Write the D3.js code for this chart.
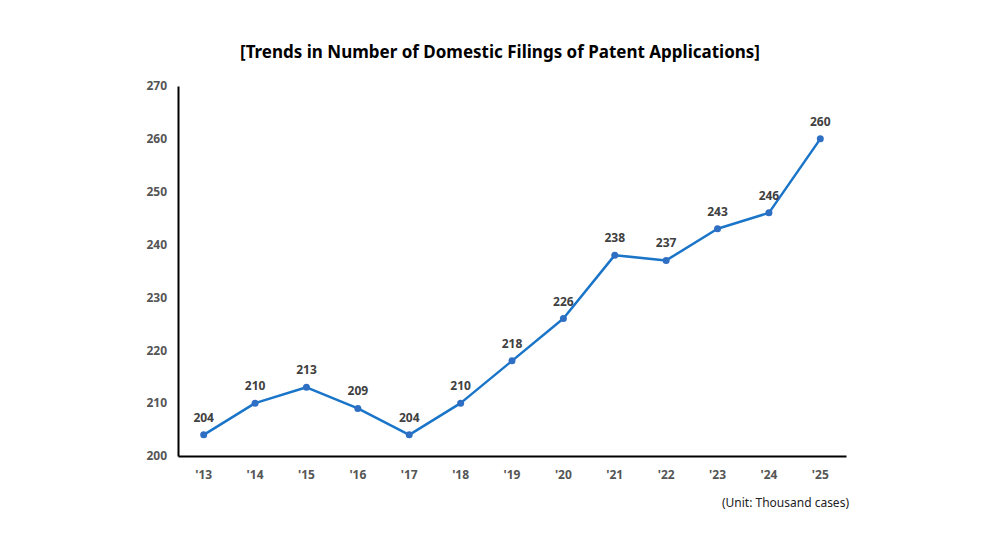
<!doctype html>
<html>
<head>
	<script src="https://d3js.org/d3.v7.min.js"></script>
</head>
<body style="margin: 0; background-color: white;">
	<div id="my_dataviz"></div>
	<script>

// data
var years = ["'13", "'14", "'15", "'16", "'17", "'18", "'19", "'20", "'21", "'22", "'23", "'24", "'25"];
var filings = [204, 210, 213, 209, 204, 210, 218, 226, 238, 237, 243, 246, 260];
var yTicks = [200, 210, 220, 230, 240, 250, 260, 270];

var W = 1000, H = 549;
var margin = {top: 86, right: 154, bottom: 93, left: 178},
    width = W - margin.left - margin.right,
    height = H - margin.top - margin.bottom;

var font = "'Noto Sans', 'Open Sans', sans-serif";

var svg = d3.select("#my_dataviz")
  .append("svg")
    .attr("width", W)
    .attr("height", H)
    .style("display", "block");

// title
svg.append("text")
    .attr("x", 500).attr("y", 58)
    .attr("text-anchor", "middle")
    .style("font-family", font)
    .style("font-size", "17px")
    .style("font-weight", "bold")
    .style("fill", "#000")
    .text("[Trends in Number of Domestic Filings of Patent Applications]");

var g = svg.append("g")
    .attr("transform", "translate(" + margin.left + "," + margin.top + ")");

var x = d3.scaleBand()
    .domain(years)
    .range([0, width])
    .padding(0);

var y = d3.scaleLinear()
    .domain([200, 270])
    .range([height, 0]);

// x axis
var xAxis = g.append("g")
    .attr("transform", "translate(0," + height + ")")
    .call(d3.axisBottom(x).tickSize(0).tickPadding(14));
xAxis.select(".domain").attr("stroke", "#000").attr("stroke-width", 2);
xAxis.selectAll("text")
    .style("font-family", font)
    .style("font-size", "12px")
    .style("font-weight", "bold")
    .style("fill", "#555");

// y axis
var yAxis = g.append("g")
    .call(d3.axisLeft(y).tickValues(yTicks).tickSize(0).tickPadding(11));
yAxis.select(".domain").attr("stroke", "#000").attr("stroke-width", 2);
yAxis.selectAll("text")
    .style("font-family", font)
    .style("font-size", "12px")
    .style("font-weight", "bold")
    .style("fill", "#555");

var cx = function(d, i) { return x(years[i]) + x.bandwidth() / 2; };

// line
g.append("path")
    .datum(filings)
    .attr("fill", "none")
    .attr("stroke", "#1a75c9")
    .attr("stroke-width", 2.5)
    .attr("stroke-linejoin", "round")
    .attr("d", d3.line()
      .x(cx)
      .y(function(d) { return y(d); })
    );

// markers
g.selectAll(".dot")
    .data(filings)
  .enter().append("circle")
    .attr("cx", cx)
    .attr("cy", function(d) { return y(d); })
    .attr("r", 3.5)
    .style("fill", "#2e6fc4");

// value labels
g.selectAll(".lbl")
    .data(filings)
  .enter().append("text")
    .attr("x", cx)
    .attr("y", function(d) { return y(d) - 13; })
    .attr("text-anchor", "middle")
    .style("font-family", font)
    .style("font-size", "12px")
    .style("font-weight", "bold")
    .style("fill", "#404040")
    .text(function(d) { return d; });

// unit note
svg.append("text")
    .attr("x", 849).attr("y", 507)
    .attr("text-anchor", "end")
    .style("font-family", font)
    .style("font-size", "12px")
    .style("fill", "#222")
    .text("(Unit: Thousand cases)");

	</script>
</body>
</html>
